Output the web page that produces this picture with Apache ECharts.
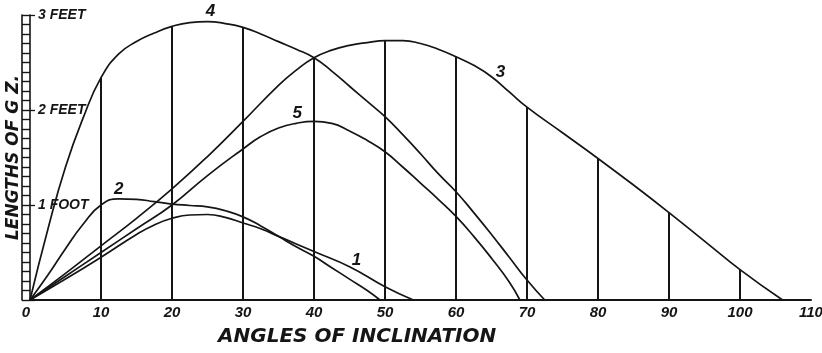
<!DOCTYPE html>
<html>
<head>
<meta charset="utf-8">
<script src="https://cdn.jsdelivr.net/npm/echarts@6/dist/echarts.min.js"></script>
<style>
  html, body { margin: 0; padding: 0; background: #ffffff; }
  #chart { width: 822px; height: 353px; }
</style>
</head>
<body>
<div id="chart"></div>
<script>
// Angles of inclination (degrees) and lengths of GZ (feet) for each curve.
const CURVE_1_ANGLES = [0, 5, 10, 15, 17.5, 20, 22.5, 25, 27.5, 30, 32.5, 35, 37.5, 40, 45, 50, 54];
const CURVE_1_GZ     = [0, 0.22, 0.45, 0.69, 0.79, 0.86, 0.895, 0.90, 0.87, 0.81, 0.75, 0.67, 0.59, 0.51, 0.35, 0.14, 0];

const CURVE_2_ANGLES = [0, 2.5, 5, 7.5, 10, 12.5, 15, 17.5, 20, 22.5, 25, 27.5, 30, 32.5, 35, 37.5, 40, 42.5, 45, 47.5, 49.3];
const CURVE_2_GZ     = [0, 0.26, 0.54, 0.80, 1.0, 1.065, 1.06, 1.035, 1.01, 0.995, 0.98, 0.94, 0.875, 0.78, 0.67, 0.56, 0.46, 0.34, 0.22, 0.10, 0];

const CURVE_3_ANGLES = [0, 5, 10, 15, 20, 25, 30, 35, 37.5, 40, 42.5, 45, 47.5, 50, 52.5, 55, 57.5, 60, 62.5, 65, 67.5, 70, 75, 80, 85, 90, 95, 100, 106];
const CURVE_3_GZ     = [0, 0.28, 0.57, 0.86, 1.17, 1.51, 1.88, 2.26, 2.42, 2.55, 2.63, 2.68, 2.71, 2.73, 2.73, 2.70, 2.64, 2.56, 2.47, 2.35, 2.19, 2.03, 1.76, 1.49, 1.21, 0.92, 0.62, 0.32, 0];

const CURVE_4_ANGLES = [0, 2.5, 5, 7.5, 10, 12.5, 15, 17.5, 20, 22.5, 25, 27.5, 30, 32.5, 35, 37.5, 40, 42.5, 45, 47.5, 50, 52.5, 55, 57.5, 60, 62.5, 65, 67.5, 70, 72.5];
const CURVE_4_GZ     = [0, 0.74, 1.40, 1.92, 2.34, 2.59, 2.72, 2.81, 2.88, 2.92, 2.93, 2.91, 2.87, 2.80, 2.72, 2.64, 2.55, 2.41, 2.25, 2.09, 1.93, 1.74, 1.54, 1.33, 1.14, 0.92, 0.69, 0.45, 0.21, 0];

const CURVE_5_ANGLES = [0, 5, 10, 15, 20, 25, 30, 32.5, 35, 37.5, 40, 42.5, 45, 47.5, 50, 52.5, 55, 57.5, 60, 62.5, 65, 67.5, 69];
const CURVE_5_GZ     = [0, 0.25, 0.50, 0.75, 1.00, 1.31, 1.59, 1.72, 1.81, 1.86, 1.88, 1.86, 1.78, 1.68, 1.56, 1.40, 1.23, 1.06, 0.88, 0.67, 0.44, 0.19, 0];

// Curve numbers and the sample angle each number sits beside.
const CURVE_NAMES   = ['1', '2', '3', '4', '5'];
const LABEL_ANGLES  = [45, 12.5, 65, 25, 37.5];
const LABEL_OFFSETS = [[7, -6], [0, -10], [9, -4], [3, -10], [1, -10]];

// Ordinates drawn at every 10 degrees, up to the highest curve.
const ORDINATE_ANGLES = [10, 20, 30, 40, 50, 60, 70, 80, 90, 100];

// Tick labels.
const X_TICKS = [0, 10, 20, 30, 40, 50, 60, 70, 80, 90, 100, 110];
const Y_TICK_LABELS = { 1: '1 FOOT', 2: '2 FEET', 3: '3 FEET' };

const curves = [
  [CURVE_1_ANGLES, CURVE_1_GZ],
  [CURVE_2_ANGLES, CURVE_2_GZ],
  [CURVE_3_ANGLES, CURVE_3_GZ],
  [CURVE_4_ANGLES, CURVE_4_GZ],
  [CURVE_5_ANGLES, CURVE_5_GZ]
];

function valueAt(curve, angle) {
  const i = curve[0].indexOf(angle);
  return i < 0 ? 0 : curve[1][i];
}

const ordinates = ORDINATE_ANGLES.map(a => [a, Math.max(...curves.map(c => valueAt(c, a)))]);

const INK = '#151515';
const numFont = { fontFamily: 'Liberation Sans', fontStyle: 'italic', fontWeight: 'bold' };

const curveSeries = curves.map((c, k) => ({
  type: 'line',
  name: CURVE_NAMES[k],
  smooth: 0.5,
  symbol: 'circle',
  symbolSize: 0,
  showSymbol: true,
  silent: true,
  z: 3,
  lineStyle: { color: INK, width: 1.7 },
  itemStyle: { color: INK },
  label: { show: false },
  data: c[0].map((a, i) => {
    if (a === LABEL_ANGLES[k]) {
      return {
        value: [a, c[1][i]],
        label: {
          show: true,
          position: 'inside',
          offset: LABEL_OFFSETS[k],
          formatter: CURVE_NAMES[k],
          color: INK,
          fontSize: 17,
          ...numFont
        }
      };
    }
    return [a, c[1][i]];
  })
}));

const chart = echarts.init(document.getElementById('chart'), null, { renderer: 'canvas' });
chart.setOption({
  animation: false,
  backgroundColor: '#ffffff',
  grid: { left: 30, right: 11, top: 15, bottom: 53, outerBoundsMode: 'none' },
  title: {
    text: 'ANGLES OF INCLINATION',
    left: 213,
    top: 322,
    textStyle: {
      fontFamily: 'DejaVu Sans', fontStyle: 'italic', fontWeight: 'bold',
      fontSize: 20, color: INK
    }
  },
  xAxis: {
    type: 'value',
    min: X_TICKS[0],
    max: X_TICKS[X_TICKS.length - 1],
    interval: 10,
    axisLine: { show: true, lineStyle: { color: INK, width: 2 } },
    axisTick: { show: false },
    splitLine: { show: false },
    axisLabel: {
      color: INK, fontSize: 15, margin: 5, ...numFont,
      alignMinLabel: 'right', alignMaxLabel: 'center'
    }
  },
  yAxis: [
    {
      // ruler: inner rail with a rung every tenth of a foot
      type: 'value', min: 0, max: 3, interval: 0.1, position: 'left',
      name: 'LENGTHS OF G Z.',
      nameLocation: 'middle',
      nameGap: 6,
      nameTextStyle: {
        fontFamily: 'DejaVu Sans', fontStyle: 'italic', fontWeight: 'bold',
        fontSize: 17, color: INK
      },
      axisLine: { show: true, lineStyle: { color: INK, width: 1.6 } },
      axisTick: { show: true, length: 8, lineStyle: { color: INK, width: 1.4 } },
      splitLine: { show: false },
      axisLabel: {
        inside: true, margin: 8, color: INK, fontSize: 14, ...numFont,
        formatter: v => {
          const r = Math.round(v);
          return Math.abs(v - r) < 1e-6 && Y_TICK_LABELS[r] ? Y_TICK_LABELS[r] : '';
        }
      }
    },
    {
      // ruler: outer rail
      type: 'value', min: 0, max: 3, interval: 1, position: 'left', offset: 8,
      axisLine: { show: true, lineStyle: { color: INK, width: 1.6 } },
      axisTick: { show: false },
      axisLabel: { show: false },
      splitLine: { show: false }
    },
    {
      // short marks at each foot
      type: 'value', min: 0, max: 3, interval: 1, position: 'left',
      axisLine: { show: false },
      axisTick: { show: true, inside: true, length: 5, lineStyle: { color: INK, width: 1.3 } },
      axisLabel: { show: false },
      splitLine: { show: false }
    }
  ],
  series: [
    {
      type: 'bar',
      silent: true,
      barWidth: 2,
      z: 2,
      itemStyle: { color: INK },
      data: ordinates
    },
    ...curveSeries
  ]
});
</script>
</body>
</html>
